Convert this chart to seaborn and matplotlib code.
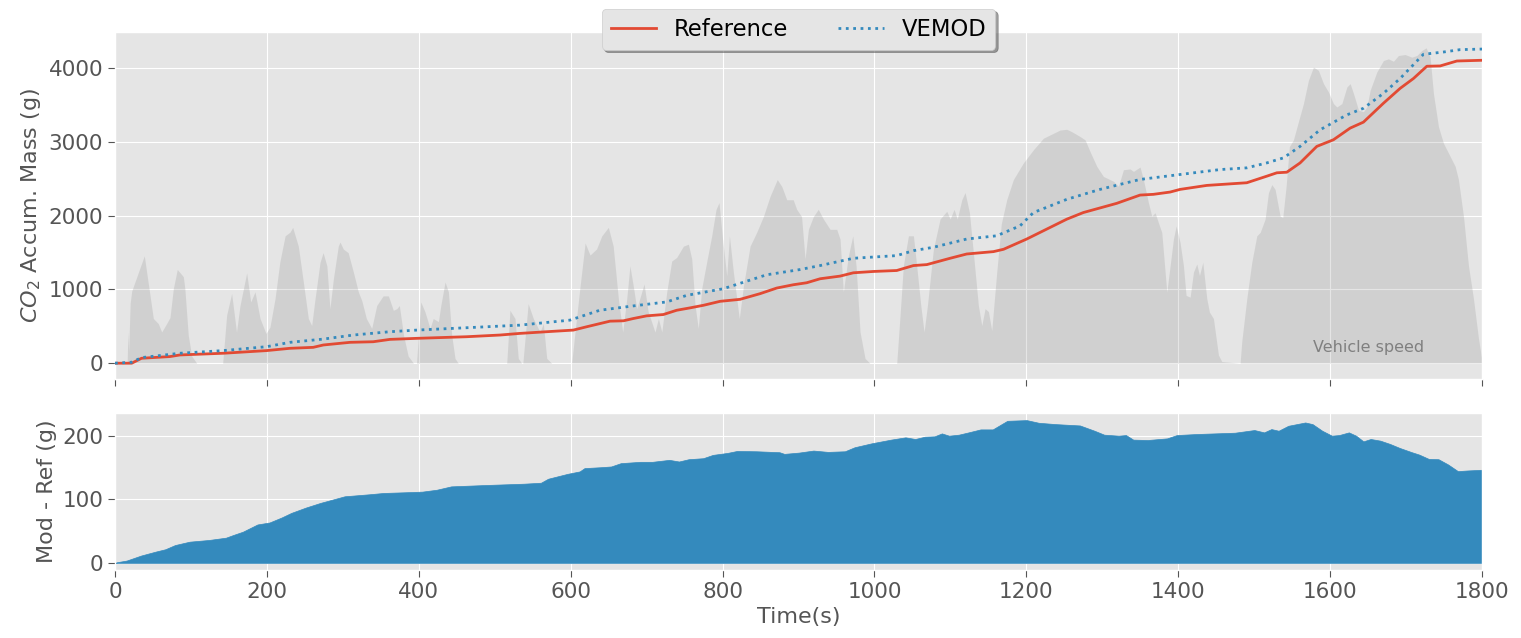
import numpy as np
import pandas as pd
import matplotlib
matplotlib.use("Agg")
import matplotlib.pyplot as plt
import seaborn as sns

# ---------------------------------------------------------------- data
# Vehicle speed over the cycle (s, km/h)
speed_t = [0, 16, 17, 18, 20, 22, 38.6, 50.5, 57, 61.5, 68, 72.4, 76.8, 82, 90, 92, 96.5, 101, 107.6,
           141.8, 147, 153.6, 160, 164.6, 173.4, 178.7, 184.4, 191, 198.8, 204, 210.7, 217, 224, 230.4,
           234, 241.4, 248, 254.6, 259, 263.4, 270, 274, 279, 283, 287.5, 294, 296.3, 300.6, 307,
           313.8, 320.4, 325, 331, 338, 344.6, 353, 360, 366.5, 371, 374.4, 380, 386, 393,
           397, 402.6, 408, 414.8, 419, 425.8, 429, 434.6, 439, 443.4, 447.7, 452,
           515.8, 520, 526.7, 531, 535.5, 537, 544, 550.8, 559.6, 564, 568.5, 575,
           601.3, 605.7, 612, 619, 625.5, 634, 641, 649.6, 656, 662.8, 668.5, 673.8, 678, 682.5,
           687, 693.6, 696.6, 702, 711, 715.5, 720, 726.5, 733, 739.6, 748.4, 755, 759.4, 763.8,
           768, 772.5, 779, 785.7, 791.4, 795.3, 800, 805.5, 809, 814.2, 818.7, 822, 827.4, 836.2,
           845, 853.7, 862.5, 872, 878, 884.5, 893, 897.6, 904, 908.6, 913, 919.5, 926, 932.7,
           941.5, 950.3, 954.7, 959, 965.6, 971.4, 975.8, 981, 987.6, 994,
           1029.3, 1033.7, 1038, 1044.7, 1051.3, 1055.6, 1061, 1065.3, 1069.7, 1077.6, 1086.4,
           1095.2, 1099.6, 1104.8, 1109, 1115, 1119.3, 1125, 1130.2, 1136.8, 1141.3, 1145.6, 1150,
           1154.4, 1161, 1167, 1174.2, 1182.9, 1196, 1209.3, 1222.4, 1244.4, 1253.2, 1259.8,
           1270.7, 1277.3, 1283.9, 1292.7, 1301.4, 1314.6, 1321.2, 1327.8, 1336.6, 1341, 1349.7,
           1354.1, 1360.7, 1365.1, 1369.5, 1373.8, 1378.3, 1382.7, 1384.9, 1389.3, 1393.6, 1397.2,
           1402.4, 1406.8, 1410.3, 1415.6, 1420, 1424.4, 1427.9, 1432.3, 1437.6, 1441, 1446.3,
           1452.9, 1457.3, 1481.4, 1483.6, 1490.2, 1496.8, 1503.4, 1507.8, 1514.3, 1518.7, 1523.2,
           1527.5, 1534.1, 1537.6, 1542, 1546.3, 1551.6, 1558.2, 1564.8, 1571.4, 1578, 1584.6,
           1591.2, 1597.8, 1604.3, 1608.8, 1615.4, 1622, 1626.3, 1630.7, 1637.3, 1643.8, 1648.3,
           1652.6, 1661.4, 1670.1, 1676.7, 1683.3, 1689.9, 1698.7, 1707.5, 1714.1, 1720.7, 1726.4,
           1731.6, 1736, 1742.6, 1749.2, 1755.8, 1764.6, 1768.9, 1775.5, 1782.1, 1788.7, 1795.3,
           1799.7, 1800]
speed_kmh = [0, 0, 13, 5, 25, 30, 44.7, 18.6, 16.5, 13, 16.5, 19, 31, 39, 36, 31, 11.6, 3, 0,
             0, 20, 29, 13, 24, 37.6, 25.5, 29.7, 18.6, 12.4, 15, 26.8, 42, 53, 54.5,
             56.5, 48.7, 33.8, 18.6, 15.7, 26.8, 42, 46, 40.5, 22.7, 35, 48.7, 50.4, 47.5, 46,
             38, 29.7, 26, 18.6, 14.5, 24, 28, 28, 22, 22.7, 24, 11.6, 3, 0,
             0, 25.5, 21.5, 14.5, 18.6, 17.3, 24, 33.8, 29.7, 11.6, 2, 0,
             0, 22, 18.6, 2, 0, 0, 24.8, 18.6, 13, 16.5, 2, 0,
             0, 13, 31, 50, 45, 47.5, 53, 56.5, 48.7, 26.8, 13, 26.8, 40.5, 32,
             22.7, 29.7, 33, 21.5, 13, 18.6, 13, 29.7, 42.5, 44, 48.7, 49.5, 43.4, 24,
             14.5, 31, 42, 53, 64, 66.8, 51.6, 36.4, 53, 38, 26.8, 18.6, 32, 48.7,
             54.5, 61, 69.4, 76.4, 73.5, 68, 68, 64, 61, 43.4, 55.7, 61, 64, 60,
             55.7, 55.7, 51.6, 29.7, 44.6, 53, 40.5, 13, 2, 0,
             0, 20, 40.5, 53, 53, 40.5, 24, 13, 24, 47.5, 60,
             63.2, 60, 64, 60, 68, 71, 62.7, 46, 24, 15.7, 22.7, 21.5,
             13.6, 38, 58, 68.1, 76.4, 83.3, 88.8, 93.6, 97, 97.3, 96.3,
             94.3, 92.9, 88, 81.9, 77.7, 75.7, 73.6, 80.5, 80.8, 79.8, 81.6,
             76.4, 66.8, 61.2, 62.6, 58.5, 54.4, 37.9, 29.6, 40.6, 51.6, 57.1,
             50.2, 40.6, 28.2, 27.5, 37.9, 41.3, 36.5, 42, 26.8, 21.3, 18.6,
             3.4, 0.7, 0, 9, 26.8, 42, 53, 54.4, 59.9, 70.9, 74.3,
             72.3, 61.2, 60.6, 73.6, 90.1, 92.9, 100.5, 108, 117.7, 123.2, 121.8,
             116.3, 112.8, 108, 106.6, 108, 114.9, 116.3, 112.2, 105.3, 104.6, 106.6,
             113.5, 121.1, 125.9, 126.6, 125.6, 128, 128.4, 127.3, 128, 130.1, 131.2,
             127.3, 112.2, 98.4, 91.5, 87.4, 81.9, 76.4, 61.2, 40.6, 26.8, 10.3,
             1.4, 0]

# Accumulated CO2 mass, measured reference (s, g)
ref_t = [0, 22, 35, 72.4, 85.6, 142.6, 199.7, 230.4, 261, 274.3, 309.5, 340, 362, 397.3, 463,
         507, 533, 568.5, 603.5, 621, 651.8, 669.4, 682.5, 700, 722, 739.6, 757, 774.7, 796.7,
         823, 849.4, 871.3, 893.2, 910.8, 928.4, 954.7, 972.2, 998.6, 1029.3, 1051.3, 1068.9,
         1099.6, 1121.5, 1156.6, 1170, 1200.5, 1253.2, 1275, 1319, 1349.7, 1367.3, 1389.3,
         1402.4, 1437.6, 1490.2, 1516.5, 1529.8, 1542.9, 1560.4, 1582.4, 1604.3, 1626.3,
         1643.8, 1670.1, 1692.1, 1709.7, 1727.3, 1744.8, 1766.8, 1800]
ref_g = [0, 0, 67, 90, 112, 135, 171, 202, 215, 247, 283, 291, 323, 337, 359,
         382, 404, 427, 449, 494, 570, 575, 606, 642, 660, 718, 750, 785, 839,
         866, 943, 1019, 1064, 1091, 1145, 1181, 1226, 1244, 1257, 1324, 1337,
         1423, 1481, 1513, 1545, 1684, 1953, 2043, 2168, 2280, 2290, 2321,
         2357, 2411, 2447, 2536, 2582, 2590, 2716, 2940, 3030, 3188,
         3269, 3525, 3727, 3861, 4027, 4031, 4098, 4108]

# Accumulated CO2 mass, VEMOD model (s, g)
mod_t = [0, 22, 35, 85.6, 142.6, 199.7, 230.4, 274.3, 313.8, 362, 397.3, 463, 507, 533,
         599, 638.3, 682.5, 726.5, 752.8, 801, 858, 902, 928.4, 972.2, 1029.3, 1051.3,
         1077.6, 1121.5, 1161, 1191.7, 1209.3, 1253.2, 1297, 1349.7, 1402.4, 1455.1,
         1490.2, 1516.5, 1538.4, 1560.4, 1586.7, 1621.9, 1643.8, 1670.1, 1692.1, 1722.8,
         1749.2, 1771.1, 1800]
mod_g = [0, 13, 76, 135, 171, 224, 283, 327, 382, 427, 449, 481, 503, 516,
         584, 718, 777, 831, 920, 1010, 1199, 1270, 1324, 1423, 1459, 1526,
         1572, 1684, 1728, 1863, 2043, 2222, 2357, 2492, 2559, 2626,
         2649, 2716, 2784, 2940, 3165, 3367, 3457, 3659, 3861, 4189,
         4220, 4252, 4260]

# Model minus reference accumulated mass (s, g)
diff_t = [0, 2.6, 15.3, 34.4, 53.6, 66.3, 79.1, 98.2, 123.8, 146.1, 155.7, 168.4, 187.6, 203.5,
          219.5, 232.2, 251.4, 270.5, 289.6, 302.4, 334.3, 353.4, 379, 404.5, 423.6, 442.7,
          487.4, 538.4, 560.8, 570.3, 595.9, 611.8, 618.2, 640.5, 653.3, 666, 691.6, 707.5,
          729.8, 742.6, 755.3, 774.5, 787.2, 806.4, 819.1, 844.6, 874.9, 881.3, 900.5, 919.6,
          938.8, 961.1, 973.8, 996.2, 1021.7, 1040.8, 1053.6, 1066.3, 1079.1, 1088.7, 1098.2,
          1111, 1123.8, 1139.7, 1155.7, 1174.9, 1200.4, 1216.3, 1238.7, 1270.5, 1289.6,
          1302.4, 1321.5, 1331.1, 1340.7, 1359.8, 1385.4, 1398.1, 1423.6, 1474.6, 1500.2,
          1513, 1522.6, 1532.1, 1544.9, 1567.2, 1576.8, 1589.5, 1602.3, 1611.8, 1624.6,
          1634.1, 1643.7, 1653.3, 1666, 1678.8, 1691.6, 1707.5, 1717.1, 1729.8, 1742.6,
          1755.3, 1768.1, 1780.9, 1800]
diff_g = [0, 1, 3.6, 11.5, 17.7, 21.4, 28, 33.3, 36, 39.6, 43.8, 49, 60.4, 63.5,
          71.4, 78.6, 87, 94.3, 100.5, 104.7, 107.8, 109.9, 110.9, 112, 115, 120.3,
          122.4, 124.5, 126, 132.3, 140, 143.8, 149, 150.5, 151.6, 156.8, 158.9, 158.9,
          162, 159.4, 163, 164.6, 169.8, 172.9, 176, 175.5, 174, 171.4, 173.4, 176.6,
          174.5, 175.5, 181.8, 188, 193.8, 197.4, 194.8, 198.4, 199, 203.6, 200,
          201.6, 205.2, 209.9, 209.9, 223.4, 224.5, 220.3, 218.2, 216.1, 207.8,
          201.6, 200, 201, 193.8, 193.2, 195.8, 201, 202.6, 204.7, 208.9,
          205.2, 210.4, 207.8, 215.6, 220.8, 218.2, 207.8, 200, 201, 205.2,
          200, 191.1, 194.8, 192.2, 187, 180.7, 174, 170.3, 163.5, 163,
          154.7, 144.3, 145.3, 146.4]

# speed is shown on the mass axis, scaled by this factor (g per km/h)
SPEED_SCALE = 32.6

# ---------------------------------------------------------------- figure
plt.style.use("ggplot")
plt.rcParams["font.family"] = ["DejaVu Sans"]

fig = plt.figure(figsize=(15.21, 6.38), dpi=100)
ax_bot = fig.add_axes([0.0756, 0.1066, 0.8988, 0.2461])
ax_top = fig.add_axes([0.0756, 0.4060, 0.8988, 0.5438], sharex=ax_bot)

# vehicle speed silhouette
spd = pd.DataFrame({"t": speed_t, "v": np.array(speed_kmh) * SPEED_SCALE})
ax_top.fill_between(spd["t"], 0, spd["v"], color="gray", alpha=0.2, lw=0, zorder=1)

ref = pd.DataFrame({"Time": ref_t, "Mass": ref_g})
mod = pd.DataFrame({"Time": mod_t, "Mass": mod_g})
sns.lineplot(data=ref, x="Time", y="Mass", ax=ax_top, color="#E24A33", lw=2,
             label="Reference", zorder=3)
sns.lineplot(data=mod, x="Time", y="Mass", ax=ax_top, color="#348ABD", lw=2,
             linestyle=":", label="VEMOD", zorder=3)

ax_top.text(0.917, 0.09, "Vehicle speed", transform=ax_top.transAxes,
            ha="center", va="center", color="gray", fontsize=11.5)

ax_top.legend(loc="upper center", bbox_to_anchor=(0.5, 1.10), ncol=2, fontsize=16.3,
              shadow=True, fancybox=True, framealpha=1, facecolor="#E5E5E5",
              edgecolor="#CCCCCC", columnspacing=2.2)
ax_top.set_ylabel("$CO_2$ Accum. Mass (g)", fontsize=16)
ax_top.set_xlabel("")
ax_top.set_yticks([0, 1000, 2000, 3000, 4000])
ax_top.tick_params(labelbottom=False)

# difference between model and reference
diff = pd.DataFrame({"Time": diff_t, "Diff": diff_g})
ax_bot.fill_between(diff["Time"], 0, diff["Diff"], color="#348ABD", lw=0.5,
                    edgecolor="#348ABD")
ax_bot.set_ylabel("Mod - Ref (g)", fontsize=16)
ax_bot.set_xlabel("Time(s)", fontsize=16)
ax_bot.set_yticks([0, 100, 200])
ax_bot.set_xlim(0, 1800)
ax_bot.set_xticks(range(0, 1801, 200))

for a in (ax_top, ax_bot):
    a.tick_params(labelsize=15.5, length=5, color="#555555")

fig.savefig("out.png", dpi=100)
